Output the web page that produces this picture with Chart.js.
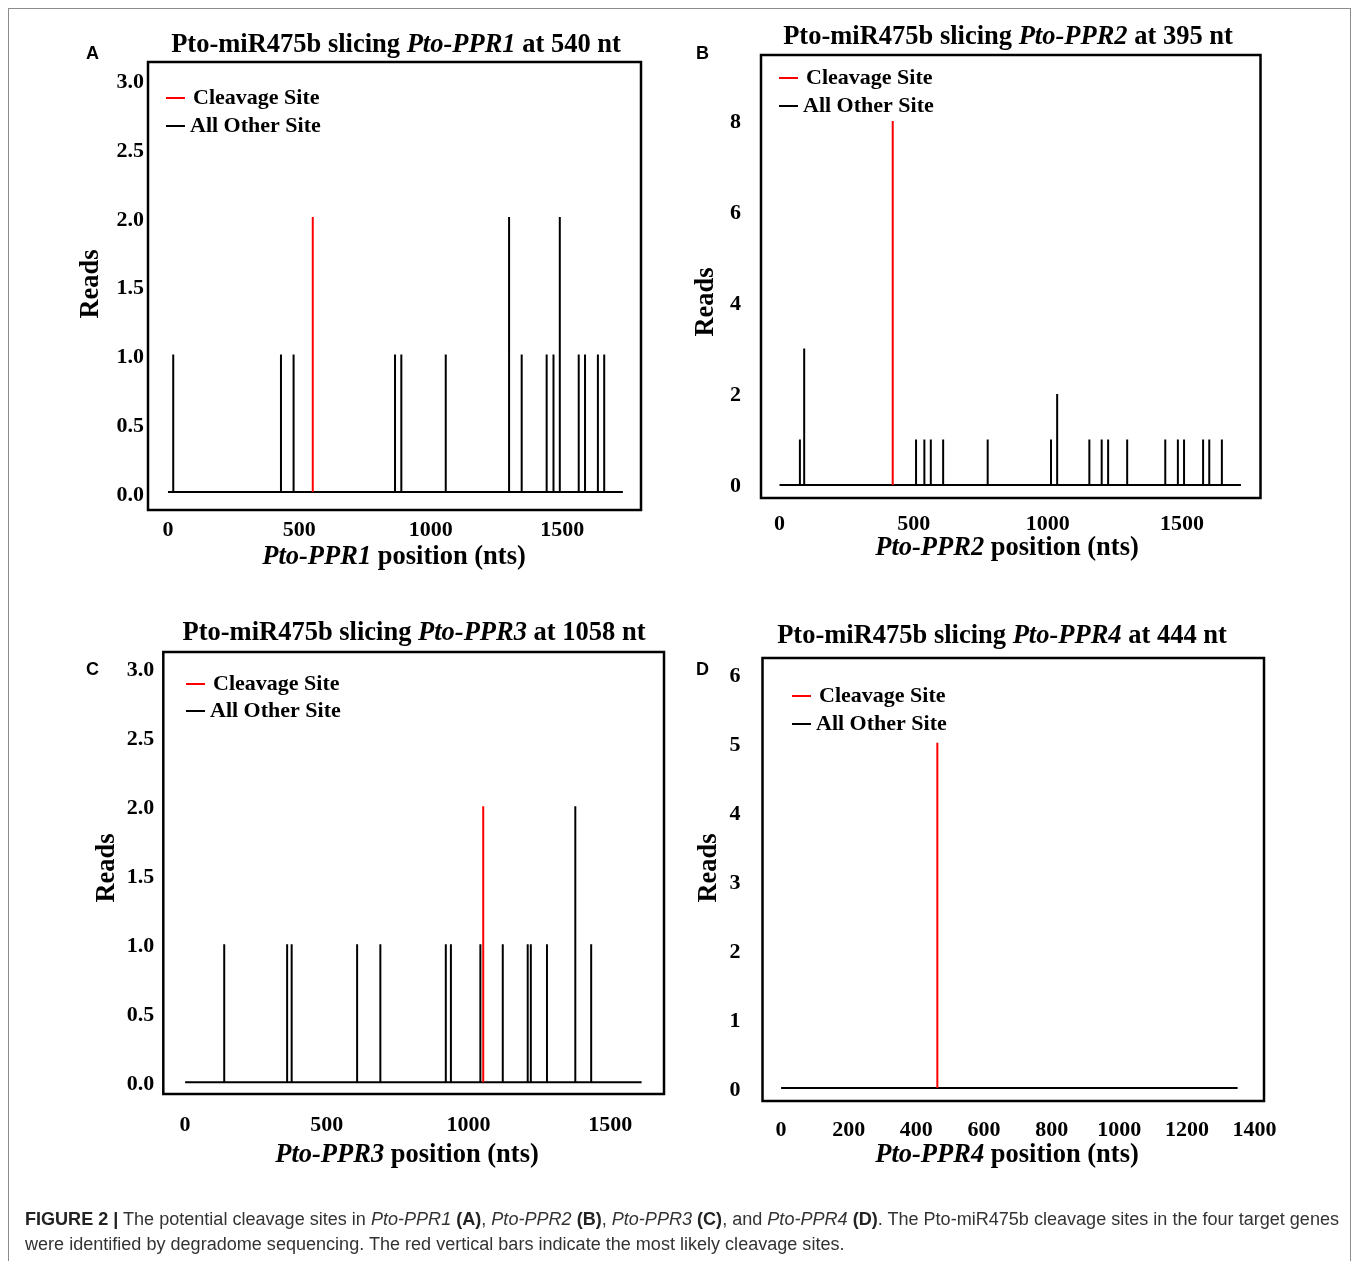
<!DOCTYPE html>
<html>
<head>
<meta charset="utf-8">
<title>Pto-miR475b cleavage sites</title>
<script src="https://cdn.jsdelivr.net/npm/chart.js@4.4.0/dist/chart.umd.min.js"></script>
<style>
    body { margin: 0; background: #fff; }
    #page { position: relative; width: 1357px; height: 1261px; overflow: hidden; background: #fff; }
    #page canvas { position: absolute; left: 0; top: 0; }
    .frame { position: absolute; left: 8px; top: 8px; width: 1341px; height: 1262px; border: 1px solid #8c8c8c; border-bottom: none; }
    .letter { position: absolute; font: bold 18px "Liberation Sans", Arial, sans-serif; line-height: 18px; color: #000; }
    .caption { position: absolute; left: 25px; white-space: nowrap; font: 18px "Liberation Sans", Arial, sans-serif; line-height: 20px; color: #333; transform-origin: 0 0; }
    .caption b { color: #222; }
</style>
</head>
<body>
<div id="page">
    <div class="frame"></div>
    <canvas id="chartA" width="1357" height="1261"></canvas>
    <canvas id="chartB" width="1357" height="1261"></canvas>
    <canvas id="chartC" width="1357" height="1261"></canvas>
    <canvas id="chartD" width="1357" height="1261"></canvas>
    <div class="letter" style="left:86px;top:44px">A</div>
    <div class="letter" style="left:696px;top:44px">B</div>
    <div class="letter" style="left:86px;top:660px">C</div>
    <div class="letter" style="left:696px;top:660px">D</div>
    <div class="caption" id="cap1" style="top:1209px"><b>FIGURE 2 |</b> The potential cleavage sites in <i>Pto-PPR1</i> <b>(A)</b>, <i>Pto-PPR2</i> <b>(B)</b>, <i>Pto-PPR3</i> <b>(C)</b>, and <i>Pto-PPR4</i> <b>(D)</b>. The Pto-miR475b cleavage sites in the four target genes</div>
    <div class="caption" id="cap2" style="top:1234px">were identified by degradome sequencing. The red vertical bars indicate the most likely cleavage sites.</div>
</div>
<script>
// A: Pto-PPR1
var posA = [20, 430, 478, 864, 888, 1057, 1298, 1346, 1441, 1467, 1491, 1563, 1587, 1636, 1660];
var readsA = [1, 1, 1, 1, 1, 1, 2, 1, 1, 1, 2, 1, 1, 1, 1];
var cleaveA = [551, 2];
var lenA = 1731;

// B: Pto-PPR2
var posB = [76, 92, 509, 540, 564, 610, 776, 1012, 1035, 1155, 1201, 1225, 1296, 1438, 1485, 1508, 1579, 1602, 1649];
var readsB = [1, 3, 1, 1, 1, 1, 1, 1, 2, 1, 1, 1, 1, 1, 1, 1, 1, 1, 1];
var cleaveB = [422, 8];
var lenB = 1720;

// C: Pto-PPR3
var posC = [138, 360, 376, 607, 689, 920, 938, 1042, 1121, 1209, 1220, 1277, 1377, 1433];
var readsC = [1, 1, 1, 1, 1, 1, 1, 1, 1, 1, 1, 1, 2, 1];
var cleaveC = [1052, 2];
var lenC = 1611;

// D: Pto-PPR4
var posD = [];
var readsD = [];
var cleaveD = [462, 5];
var lenD = 1350;

var ticksX1500 = [0, 500, 1000, 1500];
var ticksX1400 = [0, 200, 400, 600, 800, 1000, 1200, 1400];
var ticksY3 = [0, 0.5, 1, 1.5, 2, 2.5, 3];
var ticksY8 = [0, 2, 4, 6, 8];
var ticksY6 = [0, 1, 2, 3, 4, 5, 6];

var legendLabels = ['Cleavage Site', 'All Other Site'];

var serif = '"Liberation Serif", "Times New Roman", serif';
var W = 1357, H = 1261;

function otherLine(pos, reads, len) {
    var pts = [{x: 0, y: 0}];
    for (var i = 0; i < pos.length; i++) {
        pts.push({x: pos[i], y: 0}, {x: pos[i], y: reads[i]}, {x: pos[i], y: 0});
    }
    pts.push({x: len, y: 0});
    return pts;
}

function drawRich(ctx, item) {
    var fonts = item.segs.map(function (s) {
        return (s[1] ? 'italic ' : '') + 'bold ' + item.size + 'px ' + serif;
    });
    var widths = item.segs.map(function (s, i) {
        ctx.font = fonts[i];
        return ctx.measureText(s[0]).width;
    });
    var total = widths.reduce(function (a, b) { return a + b; }, 0);
    ctx.save();
    ctx.translate(item.x, item.y);
    if (item.rot) ctx.rotate(item.rot);
    ctx.fillStyle = '#000';
    ctx.textBaseline = 'middle';
    ctx.textAlign = 'left';
    var x = item.align === 'left' ? 0 : -total / 2;
    item.segs.forEach(function (s, i) {
        ctx.font = fonts[i];
        ctx.fillText(s[0], x, 0);
        x += widths[i];
    });
    ctx.restore();
}

// box round the plot, legend inside it, titles
var panelPlugin = {
    id: 'panelText',
    afterDraw: function (chart, args, opts) {
        var ctx = chart.ctx;
        var a = chart.chartArea;
        ctx.save();
        ctx.strokeStyle = '#000';
        ctx.lineWidth = 2.5;
        ctx.strokeRect(a.left, a.top, a.right - a.left, a.bottom - a.top);

        var lg = opts.legend;
        var colors = ['#ff0000', '#000000'];
        var textOff = [27, 24];
        ctx.lineWidth = 2;
        for (var i = 0; i < 2; i++) {
            var y = lg.y + i * lg.gap;
            ctx.strokeStyle = colors[i];
            ctx.beginPath();
            ctx.moveTo(lg.x, y);
            ctx.lineTo(lg.x + 19, y);
            ctx.stroke();
            drawRich(ctx, {x: lg.x + textOff[i], y: y, size: 22, align: 'left', segs: [[legendLabels[i], false]]});
        }
        ctx.restore();

        opts.texts.forEach(function (t) { drawRich(ctx, t); });
    }
};

function makePanel(id, p) {
    var yw = 80, xh = 60;
    new Chart(document.getElementById(id), {
        type: 'line',
        data: {
            datasets: [{
                label: legendLabels[0],
                data: [{x: p.cleave[0], y: 0}, {x: p.cleave[0], y: p.cleave[1]}],
                borderColor: '#ff0000',
                borderWidth: 2,
                pointRadius: 0
            }, {
                label: legendLabels[1],
                data: otherLine(p.pos, p.reads, p.len),
                borderColor: '#000000',
                borderWidth: 2,
                pointRadius: 0
            }]
        },
        options: {
            responsive: false,
            animation: false,
            events: [],
            layout: {
                padding: {left: p.box.l - yw, top: p.box.t, right: W - p.box.r, bottom: H - p.box.b - xh}
            },
            plugins: {
                legend: {display: false},
                tooltip: {enabled: false},
                panelText: {legend: p.legend, texts: p.texts}
            },
            scales: {
                x: {
                    type: 'linear',
                    min: p.x[0],
                    max: p.x[1],
                    grid: {display: false, drawTicks: false},
                    border: {display: false},
                    ticks: {
                        color: '#000',
                        font: {family: serif, size: 22, weight: 'bold'},
                        padding: p.xPad,
                        maxRotation: 0,
                        callback: function (v) { return String(v); }
                    },
                    afterBuildTicks: function (s) { s.ticks = p.xTicks.map(function (v) { return {value: v}; }); },
                    afterFit: function (s) { s.height = xh; }
                },
                y: {
                    type: 'linear',
                    min: p.y[0],
                    max: p.y[1],
                    grid: {display: false, drawTicks: false},
                    border: {display: false},
                    ticks: {
                        color: '#000',
                        font: {family: serif, size: 22, weight: 'bold'},
                        padding: p.yPad,
                        labelOffset: p.yShift,
                        callback: function (v) { return v.toFixed(p.yDec); }
                    },
                    afterBuildTicks: function (s) { s.ticks = p.yTicks.map(function (v) { return {value: v}; }); },
                    afterFit: function (s) { s.width = yw; }
                }
            }
        },
        plugins: [panelPlugin]
    });
}

var up = -Math.PI / 2;

makePanel('chartA', {
    pos: posA, reads: readsA, cleave: cleaveA, len: lenA,
    box: {l: 148, t: 62, r: 641, b: 510},
    x: [-76, 1800], y: [-0.131, 3.127],
    xTicks: ticksX1500, yTicks: ticksY3, yDec: 1, xPad: 7, yPad: 4, yShift: 3,
    legend: {x: 166, y: 98, gap: 28},
    texts: [
        {x: 396, y: 45, size: 26.5, segs: [['Pto-miR475b slicing ', false], ['Pto-PPR1', true], [' at 540 nt', false]]},
        {x: 394, y: 557, size: 26.5, segs: [['Pto-PPR1', true], [' position (nts)', false]]},
        {x: 91, y: 284, size: 26.5, rot: up, segs: [['Reads', false]]}
    ]
});

makePanel('chartB', {
    pos: posB, reads: readsB, cleave: cleaveB, len: lenB,
    box: {l: 761, t: 55, r: 1260.5, b: 498},
    x: [-69, 1793], y: [-0.286, 9.45],
    xTicks: ticksX1500, yTicks: ticksY8, yDec: 0, xPad: 13, yPad: 20, yShift: 1,
    legend: {x: 779, y: 78, gap: 28},
    texts: [
        {x: 1008, y: 37, size: 26.5, segs: [['Pto-miR475b slicing ', false], ['Pto-PPR2', true], [' at 395 nt', false]]},
        {x: 1007, y: 548, size: 26.5, segs: [['Pto-PPR2', true], [' position (nts)', false]]},
        {x: 706, y: 302, size: 26.5, rot: up, segs: [['Reads', false]]}
    ]
});

makePanel('chartC', {
    pos: posC, reads: readsC, cleave: cleaveC, len: lenC,
    box: {l: 163.3, t: 652, r: 664, b: 1094},
    x: [-77, 1690], y: [-0.085, 3.118],
    xTicks: ticksX1500, yTicks: ticksY3, yDec: 1, xPad: 18, yPad: 9, yShift: 2,
    legend: {x: 186, y: 684, gap: 27},
    texts: [
        {x: 414, y: 633, size: 26.5, segs: [['Pto-miR475b slicing ', false], ['Pto-PPR3', true], [' at 1058 nt', false]]},
        {x: 407, y: 1155, size: 26.5, segs: [['Pto-PPR3', true], [' position (nts)', false]]},
        {x: 107, y: 868, size: 26.5, rot: up, segs: [['Reads', false]]}
    ]
});

makePanel('chartD', {
    pos: posD, reads: readsD, cleave: cleaveD, len: lenD,
    box: {l: 762.5, t: 658, r: 1264, b: 1101},
    x: [-55, 1428], y: [-0.19, 6.23],
    xTicks: ticksX1400, yTicks: ticksY6, yDec: 0, xPad: 16, yPad: 22, yShift: 2,
    legend: {x: 792, y: 696, gap: 28},
    texts: [
        {x: 1002, y: 636, size: 26.5, segs: [['Pto-miR475b slicing ', false], ['Pto-PPR4', true], [' at 444 nt', false]]},
        {x: 1007, y: 1155, size: 26.5, segs: [['Pto-PPR4', true], [' position (nts)', false]]},
        {x: 709, y: 868, size: 26.5, rot: up, segs: [['Reads', false]]}
    ]
});

// squeeze the caption to the width it has in the figure
var cap1 = document.getElementById('cap1');
var cap2 = document.getElementById('cap2');
var k = 1314 / cap1.getBoundingClientRect().width;
cap1.style.transform = 'scaleX(' + k + ')';
cap2.style.transform = 'scaleX(' + k + ')';
</script>
</body>
</html>
